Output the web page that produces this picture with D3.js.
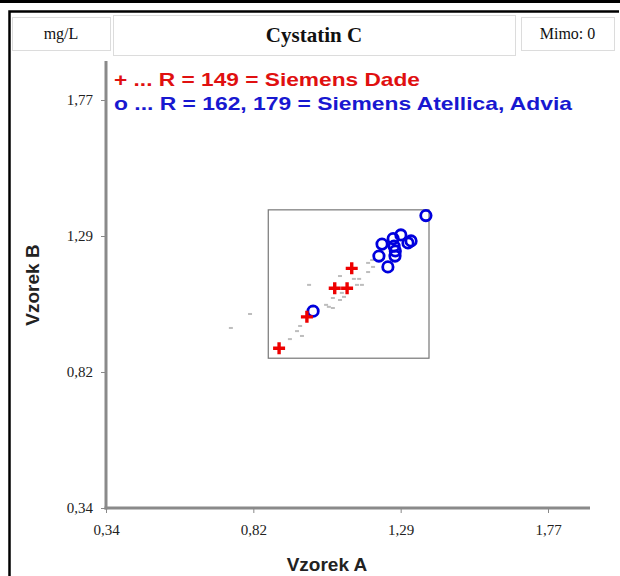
<!DOCTYPE html>
<html><head><meta charset="utf-8">
<script src="https://cdn.jsdelivr.net/npm/d3@7"></script>
<style>body{margin:0;background:#fff;}svg{display:block;}</style>
</head><body>
<script>
// ---- data ----
const tickValues = [0.34, 0.8167, 1.2933, 1.77];
const tickLabels = ["0,34", "0,82", "1,29", "1,77"];
const redA = [0.90, 0.99, 1.08, 1.12, 1.135];
const redB = [0.90, 1.01, 1.11, 1.11, 1.18];
const blueA = [1.01, 1.375, 1.294, 1.269, 1.233, 1.272, 1.317, 1.327, 1.223, 1.275, 1.252, 1.276];
const blueB = [1.03, 1.365, 1.297, 1.284, 1.265, 1.258, 1.269, 1.276, 1.223, 1.223, 1.185, 1.241];
const grayA = [0.806, 0.744, 0.997, 0.935, 0.958, 0.974, 0.968, 1.052, 1.061, 1.074, 1.074, 1.097, 1.110, 1.103, 1.097, 1.142, 1.152, 1.168, 1.159, 1.188, 1.204, 1.188, 1.201, 1.006];
const grayB = [1.020, 0.971, 1.122, 0.932, 0.960, 0.943, 0.978, 1.052, 1.045, 1.041, 1.076, 1.069, 1.080, 1.094, 1.153, 1.143, 1.122, 1.122, 1.143, 1.199, 1.185, 1.167, 1.209, 1.045];
const insetRange = [0.865, 1.385];
const unit = "mg/L", title = "Cystatin C", outside = "Mimo: 0";
const legendRed = "+ ... R = 149 = Siemens Dade";
const legendBlue = "o ... R = 162, 179 = Siemens Atellica, Advia";
const xTitle = "Vzorek A", yTitle = "Vzorek B";

const W = 620, H = 576;
const svg = d3.select("body").append("svg").attr("width", W).attr("height", H);
const serif = "'Liberation Serif', 'Times New Roman', serif";
const sans = "'Liberation Sans', Arial, sans-serif";

// frame
svg.append("rect").attr("x",0).attr("y",0).attr("width",W).attr("height",3).attr("fill","#000");
svg.append("path").attr("d","M9.5,600 V11.5 H619").attr("fill","none").attr("stroke","#000").attr("stroke-width",2.5);

// header boxes
function box(x,y,w,h,txt,size,bold){
  svg.append("rect").attr("x",x+0.5).attr("y",y+0.5).attr("width",w).attr("height",h)
    .attr("fill","#fff").attr("stroke","#dcdcdc").attr("stroke-width",1);
  svg.append("text").attr("x",x+w/2).attr("y",y+h/2).attr("dy","0.35em")
    .attr("text-anchor","middle").attr("font-family",serif).attr("font-size",size)
    .attr("font-weight",bold?"bold":"normal").attr("fill","#111").text(txt);
}
box(12,17,98,33,unit,16,false);
box(113,15,402,40,title,21,true);
box(521,17,93,33,outside,16,false);

// scales
const x = d3.scaleLinear().domain([0.34,1.77]).range([106,548]);
const y = d3.scaleLinear().domain([0.34,1.77]).range([508,100]);

// axes
const gx = svg.append("g").attr("transform","translate(0,508)")
  .call(d3.axisBottom(x).tickValues(tickValues).tickFormat((d,i)=>tickLabels[i]).tickSize(5).tickPadding(11));
const gy = svg.append("g").attr("transform","translate(106,0)")
  .call(d3.axisLeft(y).tickValues(tickValues).tickFormat((d,i)=>tickLabels[i]).tickSize(5).tickPadding(8));
[gx,gy].forEach(g=>{
  g.select(".domain").remove();
  g.selectAll(".tick line").attr("stroke","#888").attr("stroke-width",1);
  g.selectAll(".tick text").attr("font-family",serif).attr("font-size",15).attr("fill","#222");
});
svg.append("line").attr("x1",106).attr("x2",106).attr("y1",61).attr("y2",509.5).attr("stroke","#8a8a8a").attr("stroke-width",3);
svg.append("line").attr("x1",104.5).attr("x2",590).attr("y1",508).attr("y2",508).attr("stroke","#8a8a8a").attr("stroke-width",3);

// axis titles
svg.append("text").attr("x",327).attr("y",571).attr("text-anchor","middle")
  .attr("font-family",sans).attr("font-weight","bold").attr("font-size",19).attr("fill","#222").text(xTitle);
svg.append("text").attr("transform","translate(39,285) rotate(-90)").attr("text-anchor","middle")
  .attr("font-family",sans).attr("font-weight","bold").attr("font-size",19).attr("fill","#222").text(yTitle);

// legend
svg.append("text").attr("x",114).attr("y",86).attr("font-family",sans).attr("font-weight","bold")
  .attr("font-size",19).attr("fill","#e01010").attr("textLength",306).attr("lengthAdjust","spacingAndGlyphs").text(legendRed);
svg.append("text").attr("x",114).attr("y",110).attr("font-family",sans).attr("font-weight","bold")
  .attr("font-size",19).attr("fill","#1818d0").attr("textLength",458).attr("lengthAdjust","spacingAndGlyphs").text(legendBlue);

// inset box
svg.append("rect").attr("x",x(insetRange[0])).attr("y",y(insetRange[1]))
  .attr("width",x(insetRange[1])-x(insetRange[0])).attr("height",y(insetRange[0])-y(insetRange[1]))
  .attr("fill","none").attr("stroke","#777").attr("stroke-width",1.2);

// gray dots
svg.append("g").selectAll("rect").data(grayA).join("rect")
  .attr("x",(d)=>x(d)-2).attr("y",(d,i)=>y(grayB[i])-1)
  .attr("width",4).attr("height",2).attr("fill","#bdbdbd");

// blue circles
svg.append("g").selectAll("circle").data(blueA).join("circle")
  .attr("cx",d=>x(d)).attr("cy",(d,i)=>y(blueB[i])).attr("r",5.2)
  .attr("fill","none").attr("stroke","#0000dd").attr("stroke-width",2.8);

// red crosses
svg.append("g").selectAll("path").data(redA).join("path")
  .attr("d",(d,i)=>{const cx=x(d), cy=y(redB[i]), s=6; return `M${cx-s},${cy}H${cx+s}M${cx},${cy-s}V${cy+s}`;})
  .attr("stroke","#ee0000").attr("stroke-width",3.4).attr("fill","none");
</script>
</body></html>
